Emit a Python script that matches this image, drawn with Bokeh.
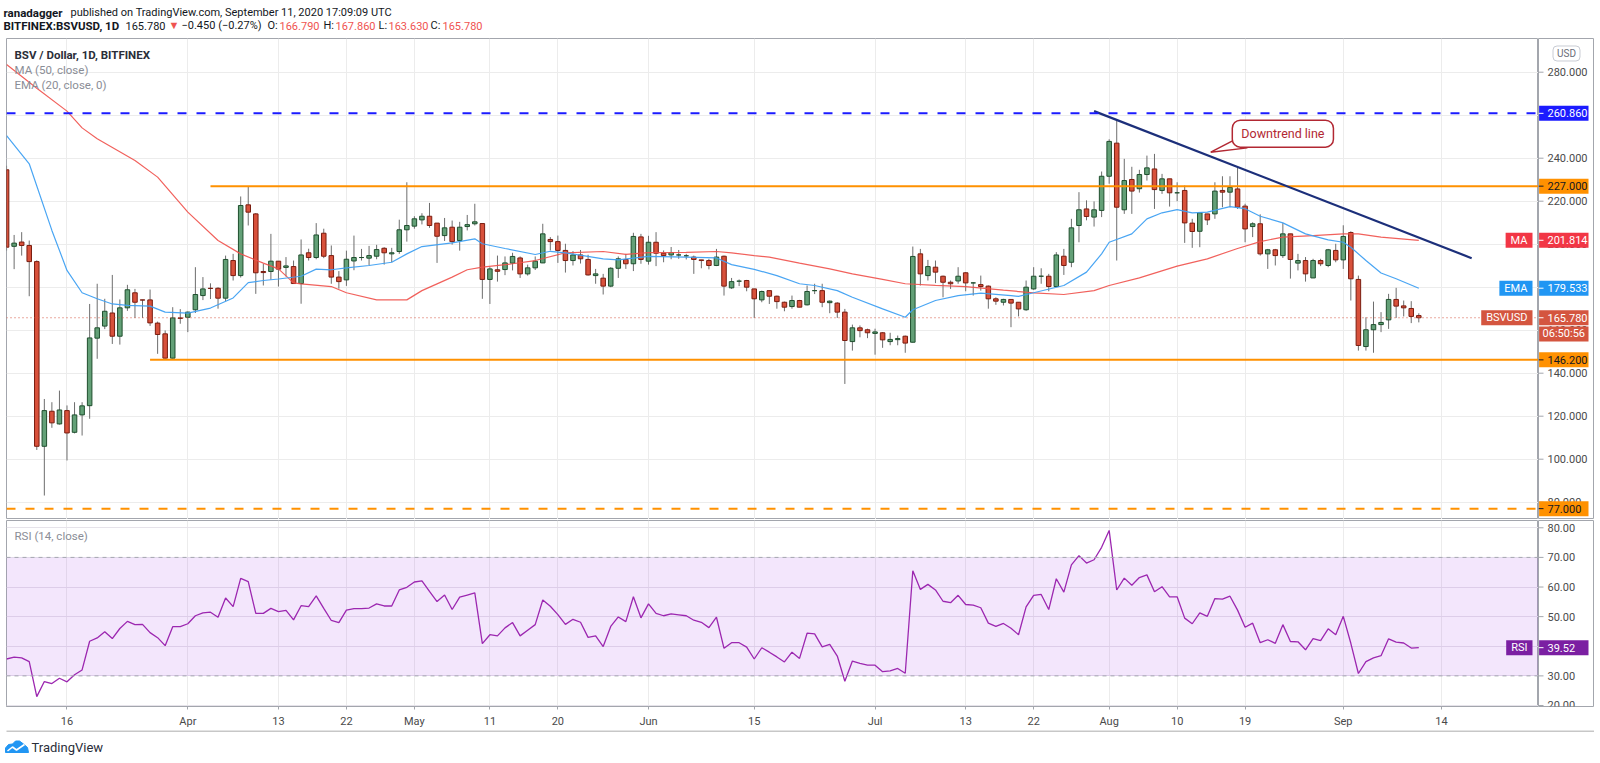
import sys
import numpy as np
import pandas as pd
from bokeh.plotting import figure
from bokeh.models import (Range1d, FixedTicker, Span, Label, BoxAnnotation, ColumnDataSource)
from bokeh.layouts import column, row
from bokeh.core.properties import value
from bokeh.embed import file_html
from bokeh.resources import INLINE

# ------------------------------------------------------------------ data
start_date, end_date = "2020-03-08", "2020-09-11"

open_mar = [234.6, 199.0, 201.0, 199.4, 191.9, 106.0, 122.3, 116.4, 122.6, 112.5, 120.6, 124.9,
            156.3, 161.9, 168.0, 157.2, 170.4, 177.4, 174.1, 174.1, 163.3, 158.3, 147.0, 165.7]
high_mar = [236.5, 204.3, 205.6, 201.7, 192.5, 128.0, 126.5, 131.9, 125.0, 126.5, 126.5, 172.2,
            181.6, 174.6, 185.7, 174.3, 181.1, 179.2, 174.1, 178.9, 164.0, 159.9, 170.7, 169.8]
low_mar = [197.0, 188.4, 194.7, 175.8, 104.3, 83.1, 114.6, 116.1, 99.4, 112.0, 111.0, 118.8,
           146.7, 160.5, 153.6, 153.3, 169.0, 165.7, 165.7, 162.0, 149.0, 146.7, 146.7, 163.0]
close_mar = [198.6, 200.5, 199.4, 191.9, 106.0, 122.6, 116.9, 122.9, 112.2, 120.6, 124.8, 156.4,
             161.1, 168.8, 157.2, 170.4, 178.8, 173.0, 174.0, 163.4, 158.0, 147.0, 165.7, 165.5]

open_apr = [166.0, 169.5, 176.1, 179.5, 179.5, 174.9, 192.4, 185.4, 218.3, 214.1, 187.3, 187.3, 192.1,
            189.2, 189.6, 181.7, 196.0, 193.8, 205.1, 194.7, 184.7, 183.4, 192.2, 193.8, 193.5, 194.4,
            198.1, 195.5, 196.6, 206.7]
high_apr = [168.7, 189.3, 184.7, 181.8, 180.0, 194.7, 195.5, 222.2, 227.0, 214.5, 190.9, 204.8, 192.1,
            194.0, 192.4, 202.2, 197.9, 209.8, 207.2, 199.4, 187.5, 197.0, 204.0, 197.8, 199.2, 199.7,
            198.6, 198.3, 211.4, 228.8]
low_apr = [159.1, 168.0, 174.0, 174.5, 170.0, 173.5, 183.1, 184.5, 208.7, 176.9, 180.8, 183.4, 180.3,
           185.0, 181.5, 172.3, 192.4, 193.0, 193.5, 181.6, 179.3, 180.6, 187.9, 192.4, 190.1, 193.0,
           190.5, 191.6, 195.5, 201.2]
close_apr = [168.4, 176.6, 179.2, 179.4, 174.9, 192.9, 185.4, 218.0, 214.9, 186.7, 186.8, 192.1, 188.4,
             189.9, 181.7, 195.0, 193.8, 204.3, 194.4, 184.7, 182.6, 193.0, 193.8, 193.8, 194.7, 197.5,
             196.0, 196.0, 206.7, 208.7]

open_may = [208.4, 211.3, 213.0, 209.8, 204.0, 207.9, 201.7, 208.2, 209.5, 209.6, 183.6, 188.1, 188.2,
            191.2, 193.6, 186.2, 189.0, 191.3, 202.2, 201.2, 197.1, 192.4, 195.0, 192.9, 185.4, 184.2,
            180.5, 188.8, 192.9, 190.9, 203.4]
high_may = [213.0, 214.4, 219.2, 209.8, 212.2, 211.0, 210.4, 213.6, 218.8, 209.6, 189.3, 194.7, 194.3,
            196.0, 194.3, 190.5, 194.3, 209.5, 203.3, 204.0, 200.2, 196.8, 197.3, 195.1, 188.5, 186.2,
            189.3, 194.3, 195.5, 205.3, 204.8]
low_may = [207.2, 209.2, 207.6, 191.3, 201.5, 199.8, 197.0, 206.4, 208.7, 174.6, 172.2, 182.6, 185.6,
           187.8, 184.3, 185.4, 188.0, 191.2, 197.1, 191.3, 186.8, 190.1, 191.0, 185.4, 181.6, 176.6,
           180.0, 184.3, 188.5, 187.5, 190.9]
close_may = [211.8, 213.0, 208.7, 203.7, 207.6, 201.2, 207.9, 209.1, 210.4, 183.6, 188.5, 187.4, 191.3,
             194.3, 186.2, 189.0, 192.1, 204.8, 201.2, 197.1, 192.4, 195.0, 193.2, 185.7, 186.2, 180.5,
             188.8, 193.2, 190.9, 203.6, 192.9]

open_jun = [192.1, 200.9, 195.8, 195.0, 195.0, 194.6, 194.0, 192.7, 192.4, 190.1, 194.4, 179.7, 182.8,
            183.1, 179.2, 174.1, 178.4, 175.8, 173.0, 171.0, 173.8, 171.8, 178.4, 178.4, 172.8, 172.6,
            168.4, 154.7, 161.1, 160.2]
high_jun = [203.9, 205.6, 197.1, 198.7, 197.3, 195.5, 194.7, 192.7, 193.2, 197.8, 194.7, 184.3, 183.6,
            183.4, 179.2, 178.4, 178.4, 176.1, 173.3, 176.1, 174.1, 180.8, 181.6, 181.6, 173.8, 173.0,
            169.9, 162.6, 162.2, 160.7]
low_jun = [190.5, 189.8, 191.6, 193.0, 193.2, 192.9, 186.2, 188.8, 188.3, 189.8, 176.1, 179.2, 180.5,
           178.1, 165.7, 173.0, 172.2, 170.0, 168.8, 170.0, 170.7, 171.5, 176.8, 170.7, 167.9, 165.7,
           135.0, 150.5, 156.7, 156.3]
close_jun = [200.9, 195.8, 194.7, 196.1, 195.0, 194.6, 192.9, 192.4, 190.1, 194.0, 180.5, 182.6, 182.8,
             180.0, 174.6, 178.0, 175.8, 173.3, 170.7, 173.8, 170.7, 178.0, 178.4, 173.0, 173.5, 168.4,
             155.2, 161.1, 159.8, 158.8]

open_jul = [158.5, 158.8, 154.7, 155.6, 157.2, 154.4, 195.5, 185.4, 189.3, 185.1, 182.3, 182.9, 186.7,
            182.0, 181.2, 180.5, 174.6, 173.0, 174.3, 173.0, 169.5, 179.2, 185.1, 185.1, 180.3, 194.4,
            191.6, 208.7, 216.4, 212.6, 215.7]
high_jul = [160.7, 159.1, 158.8, 157.5, 157.5, 198.9, 197.8, 192.7, 192.4, 185.4, 183.1, 189.3, 187.0,
            182.3, 185.4, 180.8, 175.3, 174.6, 174.3, 173.0, 183.1, 189.3, 188.8, 186.2, 196.3, 197.8,
            211.8, 224.2, 220.4, 219.9, 233.8]
low_jul = [148.6, 151.8, 153.0, 153.0, 149.5, 154.2, 180.8, 183.1, 181.9, 175.3, 179.2, 181.6, 178.1,
           176.1, 178.4, 170.0, 171.8, 171.5, 161.4, 166.4, 169.0, 178.8, 181.6, 178.1, 180.0, 185.7,
           189.3, 200.9, 211.1, 208.2, 212.6]
close_jul = [159.2, 155.5, 155.7, 156.1, 154.0, 194.3, 186.2, 189.6, 187.0, 182.3, 181.6, 185.1, 182.0,
             182.0, 180.3, 174.6, 173.5, 174.3, 172.6, 169.9, 180.0, 185.1, 185.1, 180.3, 195.0, 190.1,
             207.6, 216.0, 212.9, 216.0, 231.6]

open_aug = [231.6, 247.0, 216.0, 230.1, 225.8, 232.4, 235.0, 225.0, 230.4, 223.9, 225.0, 209.8, 206.0,
            214.1, 214.1, 225.0, 224.2, 225.7, 217.7, 208.2, 209.5, 195.5, 197.4, 194.7, 204.8, 191.2,
            192.4, 184.3, 192.4, 190.1, 197.1]
high_aug = [248.8, 257.5, 239.7, 236.0, 234.6, 241.2, 242.0, 232.7, 230.4, 228.8, 227.3, 211.8, 214.9,
            214.1, 228.8, 231.6, 231.6, 235.8, 218.8, 210.2, 213.9, 197.8, 197.8, 209.8, 204.8, 195.5,
            194.0, 193.2, 193.2, 197.8, 200.2]
low_aug = [228.1, 192.4, 214.1, 214.1, 224.0, 229.6, 216.4, 223.4, 217.5, 220.0, 200.6, 198.3, 198.6,
           208.9, 211.8, 217.2, 217.2, 216.4, 200.9, 203.3, 194.7, 188.5, 190.1, 193.6, 184.0, 187.8,
           182.6, 184.3, 189.8, 189.3, 191.6]
close_aug = [247.8, 217.2, 229.6, 224.7, 232.4, 235.5, 225.4, 230.4, 223.9, 223.9, 209.9, 205.9, 214.6,
             211.3, 224.7, 224.2, 226.4, 217.2, 207.1, 209.5, 195.5, 197.4, 194.7, 204.8, 192.9, 192.4,
             186.2, 192.4, 190.9, 197.4, 192.7]

open_sep = [192.7, 205.4, 183.6, 152.4, 160.2, 162.6, 164.8, 174.3, 171.3, 170.1, 166.79]
high_sep = [208.8, 206.0, 185.4, 166.0, 173.3, 168.4, 176.9, 179.7, 173.8, 173.5, 167.86]
low_sep = [188.5, 173.8, 150.5, 150.5, 149.5, 159.1, 160.6, 165.7, 166.4, 163.3, 163.63]
close_sep = [203.6, 183.9, 152.9, 160.2, 162.6, 163.6, 174.3, 171.2, 170.4, 166.4, 165.78]

rsi_mar = [35.7, 36.3, 36.1, 34.8, 23.0, 28.1, 27.4, 29.2, 28.0, 30.4, 32.0, 41.7, 42.8, 44.9, 42.6,
           46.0, 48.4, 47.3, 47.4, 44.6, 42.9, 40.2, 46.6, 46.6]
rsi_apr = [47.6, 50.3, 51.3, 51.5, 49.8, 56.3, 53.4, 62.9, 61.8, 51.1, 51.1, 52.8, 51.7, 52.1, 48.9,
           53.7, 53.4, 57.0, 52.8, 48.7, 48.0, 52.2, 52.7, 52.7, 52.9, 54.3, 53.6, 53.6, 59.0, 59.9]
rsi_may = [61.7, 62.1, 58.5, 55.1, 57.3, 52.4, 56.6, 57.3, 58.0, 40.9, 43.9, 43.5, 46.2, 48.0, 43.5,
           45.4, 47.3, 55.6, 53.5, 50.7, 47.4, 49.1, 48.1, 43.0, 43.5, 39.9, 46.7, 49.9, 48.3, 56.7, 49.6]
rsi_jun = [54.3, 51.1, 50.3, 50.9, 50.6, 50.3, 48.8, 48.1, 46.3, 49.8, 39.3, 41.2, 41.2, 39.7, 35.7,
           39.5, 38.0, 36.4, 34.7, 38.0, 35.9, 44.4, 44.2, 39.8, 40.6, 36.7, 28.2, 35.0, 34.2, 33.6]
rsi_jul = [33.6, 31.4, 31.7, 32.5, 30.9, 65.5, 59.2, 60.9, 59.0, 55.2, 54.7, 57.2, 54.1, 53.9, 53.0,
           47.8, 46.7, 47.7, 46.1, 43.9, 53.3, 57.2, 57.5, 52.4, 62.8, 58.3, 67.5, 70.6, 68.1, 69.2, 73.4]
rsi_aug = [79.1, 59.0, 63.0, 60.6, 63.2, 64.1, 58.4, 60.1, 56.7, 56.7, 49.5, 47.6, 51.3, 50.1, 56.1,
           55.9, 56.9, 52.2, 46.4, 47.8, 41.2, 42.2, 41.0, 47.3, 41.6, 41.5, 38.8, 42.6, 41.9, 45.9, 43.9]
rsi_sep = [50.1, 41.0, 30.8, 34.8, 36.1, 36.8, 42.5, 41.4, 41.1, 39.4, 39.52]

ma_dates = ["2020-03-08", "2020-03-12", "2020-03-16", "2020-03-18", "2020-03-20", "2020-03-25",
            "2020-03-28", "2020-04-01", "2020-04-05", "2020-04-08", "2020-04-11", "2020-04-13",
            "2020-04-15", "2020-04-16", "2020-04-20", "2020-04-22", "2020-04-26", "2020-04-30",
            "2020-05-02", "2020-05-06", "2020-05-08", "2020-05-10", "2020-05-14", "2020-05-17",
            "2020-05-21", "2020-05-26", "2020-05-29", "2020-06-01", "2020-06-06", "2020-06-10",
            "2020-06-12", "2020-06-15", "2020-06-17", "2020-06-21", "2020-06-25", "2020-06-28",
            "2020-07-02", "2020-07-05", "2020-07-09", "2020-07-13", "2020-07-18", "2020-07-22",
            "2020-07-26", "2020-07-30", "2020-08-01", "2020-08-05", "2020-08-10", "2020-08-14",
            "2020-08-18", "2020-08-21", "2020-08-24", "2020-08-28", "2020-09-01", "2020-09-03",
            "2020-09-06", "2020-09-11"]
ma_vals = [283.6, 272.5, 261.9, 254.1, 249.0, 238.9, 231.2, 214.9, 201.7, 195.5, 191.2, 188.5,
           182.0, 181.5, 180.3, 177.4, 174.1, 174.1, 178.4, 184.7, 188.1, 189.3, 190.9, 192.4,
           196.0, 196.6, 195.3, 196.1, 196.2, 196.6, 196.0, 194.7, 194.0, 191.2, 188.5, 186.2,
           183.6, 181.6, 180.8, 180.3, 178.6, 177.4, 176.6, 178.4, 180.8, 184.3, 189.8, 193.2,
           198.0, 201.2, 203.3, 204.0, 204.8, 204.8, 203.3, 201.8]

ema_dates = ["2020-03-08", "2020-03-11", "2020-03-14", "2020-03-16", "2020-03-18", "2020-03-20",
             "2020-03-22", "2020-03-24", "2020-03-27", "2020-03-29", "2020-04-01", "2020-04-04",
             "2020-04-07", "2020-04-09", "2020-04-11", "2020-04-13", "2020-04-16", "2020-04-18",
             "2020-04-20", "2020-04-22", "2020-04-25", "2020-04-28", "2020-04-30", "2020-05-02",
             "2020-05-06", "2020-05-09", "2020-05-10", "2020-05-13", "2020-05-17", "2020-05-19",
             "2020-05-21", "2020-05-26", "2020-05-28", "2020-06-01", "2020-06-06", "2020-06-10",
             "2020-06-12", "2020-06-15", "2020-06-18", "2020-06-21", "2020-06-23", "2020-06-26",
             "2020-06-28", "2020-07-02", "2020-07-05", "2020-07-06", "2020-07-09", "2020-07-12",
             "2020-07-15", "2020-07-19", "2020-07-20", "2020-07-22", "2020-07-26", "2020-07-29",
             "2020-07-31", "2020-08-01", "2020-08-04", "2020-08-06", "2020-08-08", "2020-08-10",
             "2020-08-12", "2020-08-14", "2020-08-17", "2020-08-19", "2020-08-21", "2020-08-24",
             "2020-08-27", "2020-08-30", "2020-09-01", "2020-09-02", "2020-09-04", "2020-09-06",
             "2020-09-08", "2020-09-11"]
ema_vals = [250.5, 237.4, 206.4, 187.8, 177.4, 174.6, 172.2, 171.5, 171.2, 168.4, 167.9, 170.3,
            175.0, 182.1, 183.1, 183.8, 185.1, 188.4, 188.1, 189.0, 190.1, 191.6, 195.5, 198.9,
            200.6, 202.5, 200.2, 198.0, 195.2, 196.7, 196.0, 193.2, 192.7, 194.3, 194.0, 193.6,
            190.5, 188.3, 185.4, 181.6, 180.8, 178.4, 175.3, 169.9, 166.0, 169.5, 173.8, 176.1,
            177.2, 176.1, 175.7, 177.4, 180.8, 187.0, 195.5, 200.9, 204.8, 211.8, 214.6, 216.1,
            214.6, 214.9, 217.5, 216.5, 213.0, 209.9, 204.8, 202.0, 200.9, 198.6, 192.4, 186.6,
            183.9, 179.5]

solid_levels = [227.0, 146.2]
solid_level_start = ["2020-04-04", "2020-03-27"]
dashed_levels = [260.86, 77.0]
trend_dates = ["2020-07-30", "2020-09-18"]
trend_vals = [261.9, 193.5]
callout_text = "Downtrend line"
callout_date, callout_price = "2020-08-24", 251.4

last_close, ma_last, ema_last, rsi_last = 165.78, 201.814, 179.533, 39.52
countdown = "06:50:56"

tick_dates = ["2020-03-16", "2020-04-01", "2020-04-13", "2020-04-22", "2020-05-01", "2020-05-11",
              "2020-05-20", "2020-06-01", "2020-06-15", "2020-07-01", "2020-07-13", "2020-07-22",
              "2020-08-01", "2020-08-10", "2020-08-19", "2020-09-01", "2020-09-14"]
tick_labels = ["16", "Apr", "13", "22", "May", "11", "20", "Jun", "15", "Jul", "13", "22",
               "Aug", "10", "19", "Sep", "14"]
price_ticks = [80, 100, 120, 140, 160, 180, 200, 220, 240, 260, 280]
rsi_ticks = [20, 30, 40, 50, 60, 70, 80]

# ------------------------------------------------------------------ prep
dates = pd.date_range(start_date, end_date, freq="D")
t0 = dates[0]


def idx_of(ds):
    return [(pd.Timestamp(d) - t0).days for d in ds]


opens = np.array(open_mar + open_apr + open_may + open_jun + open_jul + open_aug + open_sep)
highs = np.array(high_mar + high_apr + high_may + high_jun + high_jul + high_aug + high_sep)
lows = np.array(low_mar + low_apr + low_may + low_jun + low_jul + low_aug + low_sep)
closes = np.array(close_mar + close_apr + close_may + close_jun + close_jul + close_aug + close_sep)
rsi = np.array(rsi_mar + rsi_apr + rsi_may + rsi_jun + rsi_jul + rsi_aug + rsi_sep)
n = min(len(dates), len(opens), len(highs), len(lows), len(closes), len(rsi))
if len(set([len(dates), len(opens), len(highs), len(lows), len(closes), len(rsi)])) != 1:
    print("length mismatch", len(dates), len(opens), len(highs), len(lows), len(closes), len(rsi),
          file=sys.stderr)
xs = np.arange(n)
opens, highs, lows, closes = opens[:n], highs[:n], lows[:n], closes[:n]
highs = np.maximum(highs, np.maximum(opens, closes))
lows = np.minimum(lows, np.minimum(opens, closes))
up = closes >= opens

tick_x = idx_of(tick_dates)

# ------------------------------------------------------------------ style
FONT = "Roboto"
LEFT = 6          # left border (px)
FW = 1532         # chart frame width
AW = 56           # price-scale strip width
W = LEFT + FW + AW
PX_PER_DAY = 7.552
GRID = "#ececec"
AXC = "#a3a6ad"
TXT = "#4a4a4a"
UP_FILL, UP_LINE = "#63a077", "#1f4f2e"
DN_FILL, DN_LINE = "#d8513b", "#7a1d10"
WICK = "#6d6d6d"
BLUE_LVL = "#1b1bff"
ORANGE = "#ff9100"
RED_TAG, BLUE_TAG, PRICE_TAG, RSI_TAG = "#f23645", "#2196f3", "#d4553f", "#7b1fa2"
x_range = Range1d(-0.01, -0.01 + FW / PX_PER_DAY)
price_range = Range1d(71.95, 295.67)
rsi_range = Range1d(19.66, 82.46)


def name_tag(fig, y, text, bg):
    fig.add_layout(Label(x=FW - 6, y=y, x_units="screen", y_units="data", text=text,
                         text_align="right", text_baseline="middle", text_font=FONT,
                         text_font_size="11px", text_color="white", background_fill_color=bg,
                         border_line_color=None, padding=(5, 1), level="overlay"))


def legend(fig, y, text, color, bold=False):
    fig.add_layout(Label(x=8, y=y, x_units="screen", y_units="data", text=text,
                         text_align="left", text_baseline="middle", text_font=FONT,
                         text_font_size="11.5px", text_color=color,
                         text_font_style="bold" if bold else "normal", level="overlay"))


def scale_strip(yr, h, ticks, fmt, tags, top=0, bottom=0):
    """Right price-scale column: tick marks, tick labels and value tags on the shared y scale."""
    s = figure(frame_width=AW, frame_height=h, x_range=Range1d(0, AW), y_range=yr,
               x_axis_location=None, y_axis_location=None, toolbar_location=None,
               output_backend="svg", min_border_left=0, min_border_right=0,
               min_border_top=top, min_border_bottom=bottom, outline_line_color=AXC,
               background_fill_color="white")
    s.grid.grid_line_color = None
    s.segment(x0=[0] * len(ticks), y0=ticks, x1=[5] * len(ticks), y1=ticks,
              line_color=AXC, line_width=1)
    s.text(x=[9] * len(ticks), y=ticks, text=[fmt.format(t) for t in ticks],
           text_font=value(FONT), text_font_size="11px", text_color=TXT,
           text_baseline="middle", text_align="left")
    ty = [t[0] for t in tags]
    s.rect(x=[25.3] * len(tags), y=ty, width=49.4, height=15, height_units="screen",
           fill_color=[t[2] for t in tags], line_color=None)
    marked = [t for t in tags if not t[4]]
    s.segment(x0=[0] * len(marked), y0=[t[0] for t in marked], x1=[5] * len(marked),
              y1=[t[0] for t in marked], line_color=[t[3] for t in marked], line_width=1)
    left = [t for t in tags if not t[4]]
    s.text(x=[9] * len(left), y=[t[0] for t in left], text=[t[1] for t in left],
           text_font=value(FONT), text_font_size="11px", text_color=[t[3] for t in left],
           text_baseline="middle", text_align="left")
    centred = [t for t in tags if t[4]]
    if centred:
        s.text(x=[25.3] * len(centred), y=[t[0] for t in centred], text=[t[1] for t in centred],
               text_font=value(FONT), text_font_size="11px",
               text_color=[t[3] for t in centred], text_baseline="middle", text_align="center")
    return s


# ------------------------------------------------------------------ header
HH = 38
hf = figure(width=W, height=HH, x_range=Range1d(0, W), y_range=Range1d(HH, 0),
            x_axis_location=None, y_axis_location=None, toolbar_location=None,
            output_backend="svg", min_border=0, outline_line_color=None)
hf.grid.grid_line_color = None
hf.text(x=[3, 3], y=[12, 25], text=["ranadagger", "BITFINEX:BSVUSD, 1D"],
        text_font=value(FONT), text_font_size="11.5px", text_font_style="bold",
        text_color="#131722", text_baseline="middle")
hf.text(x=[70, 125, 181, 267, 323, 378, 430],
        y=[12, 25, 25, 25, 25, 25, 25],
        text=["published on TradingView.com, September 11, 2020 17:09:09 UTC", "165.780",
              "\u22120.450 (\u22120.27%)", "O:", "H:", "L:", "C:"],
        text_font=value(FONT), text_font_size="11px", text_color="#131722",
        text_baseline="middle")
hf.text(x=[168, 279, 335, 388, 442], y=[25] * 5,
        text=["\u25bc", "166.790", "167.860", "163.630", "165.780"],
        text_font=value(FONT), text_font_size="11px", text_color="#ef5350",
        text_baseline="middle")

# ------------------------------------------------------------------ price pane
pf = figure(frame_width=FW, frame_height=481, x_range=x_range, y_range=price_range,
            x_axis_location=None, y_axis_location=None, toolbar_location=None,
            output_backend="svg", min_border_left=LEFT, min_border_right=0, min_border_top=0,
            min_border_bottom=0, outline_line_color=AXC, background_fill_color="white")
pf.xgrid.ticker = FixedTicker(ticks=tick_x)
pf.xgrid.grid_line_color = GRID
pf.ygrid.ticker = FixedTicker(ticks=price_ticks)
pf.ygrid.grid_line_color = GRID

src_up = ColumnDataSource(dict(x=xs[up], top=closes[up], bottom=opens[up], hi=highs[up], lo=lows[up]))
src_dn = ColumnDataSource(dict(x=xs[~up], top=opens[~up], bottom=closes[~up], hi=highs[~up], lo=lows[~up]))
for src in (src_up, src_dn):
    pf.segment(x0="x", y0="hi", x1="x", y1="lo", source=src, line_color=WICK, line_width=1)
pf.vbar(x="x", width=0.6, top="top", bottom="bottom", source=src_up,
        fill_color=UP_FILL, line_color=UP_LINE, line_width=1)
pf.vbar(x="x", width=0.6, top="top", bottom="bottom", source=src_dn,
        fill_color=DN_FILL, line_color=DN_LINE, line_width=1)

pf.line(idx_of(ma_dates), ma_vals, line_color="#f0504a", line_width=1.2, line_alpha=0.9)
pf.line(idx_of(ema_dates), ema_vals, line_color="#3fa0f2", line_width=1.2, line_alpha=0.95)

for lv in dashed_levels:
    pf.add_layout(Span(location=lv, dimension="width", line_width=2, line_dash="9 10",
                       line_color=BLUE_LVL if lv > 200 else ORANGE))
pf.ray(x=idx_of(solid_level_start), y=solid_levels, length=0, angle=0,
       line_color=ORANGE, line_width=2)
pf.add_layout(Span(location=last_close, dimension="width", line_width=1, line_dash="1 3",
                   line_color=PRICE_TAG))
pf.line(idx_of(trend_dates), trend_vals, line_color="#1c2f7a", line_width=2.2)

cx = idx_of([callout_date])[0]
pf.patch(x=[cx - 6.6, cx - 9.55, cx - 4.7],
         y=[callout_price - 3.2, callout_price - 8.6, callout_price - 6.6],
         fill_color="white", line_color="#b22833", line_width=1.5)
pf.add_layout(Label(x=cx, y=callout_price, text=callout_text, text_align="center",
                    text_baseline="middle", text_font=FONT, text_font_size="12.5px",
                    text_color="#b22833", background_fill_color="white",
                    border_line_color="#b22833", border_line_width=1.5, border_radius=8,
                    padding=(9, 6), level="overlay"))

legend(pf, 288.2, "BSV / Dollar, 1D, BITFINEX", "#2a2e39", bold=True)
legend(pf, 281.2, "MA (50, close)", "#8a8d96")
legend(pf, 274.2, "EMA (20, close, 0)", "#8a8d96")
name_tag(pf, ma_last, "MA", RED_TAG)
name_tag(pf, ema_last, "EMA", BLUE_TAG)
name_tag(pf, last_close, "BSVUSD", PRICE_TAG)

# (value, text, background, text colour, centred)
price_tags = [
    (dashed_levels[0], f"{dashed_levels[0]:.3f}", BLUE_LVL, "white", False),
    (solid_levels[0], f"{solid_levels[0]:.3f}", ORANGE, "#131722", False),
    (ma_last, f"{ma_last:.3f}", RED_TAG, "white", False),
    (ema_last, f"{ema_last:.3f}", BLUE_TAG, "white", False),
    (last_close, f"{last_close:.3f}", PRICE_TAG, "white", False),
    (last_close - 7.5, countdown, PRICE_TAG, "white", True),
    (solid_levels[1], f"{solid_levels[1]:.3f}", ORANGE, "#131722", False),
    (dashed_levels[1], f"{dashed_levels[1]:.3f}", ORANGE, "#131722", False),
]
af = scale_strip(price_range, 481, price_ticks, "{:.3f}", price_tags)
af.add_layout(Label(x=28, y=288.7, text="USD", text_align="center", text_baseline="middle",
                    text_font=FONT, text_font_size="10px", text_color="#6a6d78",
                    background_fill_color="white", border_line_color="#c9ccd4",
                    border_radius=4, padding=(4, 2), level="overlay"))

# ------------------------------------------------------------------ RSI pane
rf = figure(frame_width=FW, frame_height=186, x_range=x_range, y_range=rsi_range,
            y_axis_location=None, toolbar_location=None, output_backend="svg",
            min_border_left=LEFT, min_border_right=0, min_border_top=1, min_border_bottom=24,
            outline_line_color=AXC, background_fill_color="white")
rf.add_layout(BoxAnnotation(bottom=30, top=70, fill_color="#9b2fe6", fill_alpha=0.12,
                            line_color=None, level="underlay"))
rf.xgrid.ticker = FixedTicker(ticks=tick_x)
rf.xgrid.grid_line_color = GRID
rf.ygrid.ticker = FixedTicker(ticks=rsi_ticks)
rf.ygrid.grid_line_color = "#e6e3ea"
for lv in (70, 30):
    rf.add_layout(Span(location=lv, dimension="width", line_color="#a5a7b0", line_width=1,
                       line_dash="4 4"))
rf.line(xs, rsi[:n], line_color="#9c27b0", line_width=1.3)

xa = rf.xaxis[0]
xa.ticker = FixedTicker(ticks=tick_x)
xa.major_label_overrides = {int(t): lab for t, lab in zip(tick_x, tick_labels)}
xa.major_label_text_font = FONT
xa.major_label_text_font_size = "11px"
xa.major_label_text_color = TXT
xa.axis_line_color = AXC
xa.major_tick_line_color = AXC
xa.major_tick_out = 3
xa.major_tick_in = 0
xa.minor_tick_line_color = None
xa.major_label_standoff = 5

legend(rf, 77.06, "RSI (14, close)", "#8a8d96")
name_tag(rf, rsi_last, "RSI", RSI_TAG)
ar = scale_strip(rsi_range, 186, rsi_ticks, "{:.2f}",
                 [(rsi_last, f"{rsi_last:.2f}", RSI_TAG, "white", False)], top=1, bottom=24)

# ------------------------------------------------------------------ footer
FH = 30
ff = figure(width=W, height=FH, x_range=Range1d(0, W), y_range=Range1d(FH, 0),
            x_axis_location=None, y_axis_location=None, toolbar_location=None,
            output_backend="svg", min_border=0, outline_line_color=None)
ff.grid.grid_line_color = None
ff.segment(x0=[LEFT], y0=[0.5], x1=[W], y1=[0.5], line_color="#8f8f8f", line_width=1)
ff.patch(x=[5, 5, 8, 12, 15, 19, 23, 27, 28], y=[22, 17.5, 14, 13.5, 10.5, 10.5, 13.5, 17, 22],
         fill_color="#2196f3", line_color="#2196f3")
ff.line(x=[7, 12, 16, 24], y=[20.5, 16.5, 19.5, 14], line_color="white", line_width=1.6)
ff.text(x=[31], y=[16.5], text=["TradingView"], text_font=value(FONT), text_font_size="13px",
        text_color="#2a2e39", text_baseline="middle")

layout = column(hf, row(pf, af), row(rf, ar), ff)
open("out.html", "w").write(file_html(layout, INLINE, title="BSVUSD chart"))
